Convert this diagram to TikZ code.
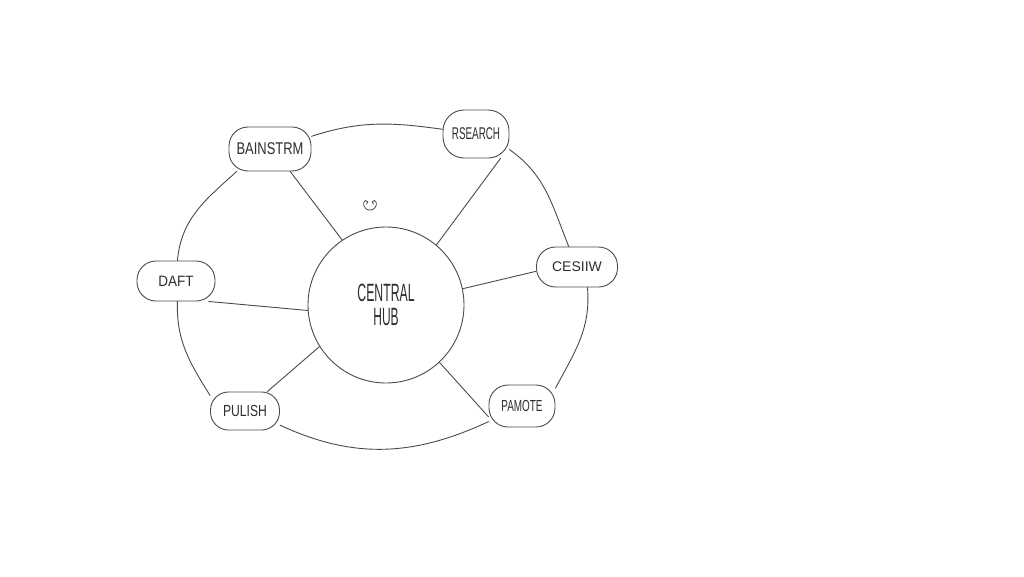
\documentclass[tikz,border=0pt]{standalone}
\usepackage{fontspec}
\setmainfont{Liberation Sans}
\definecolor{inkline}{HTML}{4A4A4A}
\definecolor{inktext}{HTML}{2E2E2E}
\newcommand{\narrowtxt}[2]{\scalebox{#1}[1]{#2}}
\tikzset{
  pen/.style={draw=inkline, line width=0.9pt, line cap=round, line join=round},
  blob/.style={rectangle, rounded corners=19pt, pen, fill=white, inner sep=0pt, text=inktext, font=\fontsize{16}{16}\selectfont},
  hubnode/.style={circle, pen, fill=white, minimum size=156pt, inner sep=0pt, text=inktext, align=center, font=\fontsize{25}{24}\selectfont},
  spoke/.style={pen},
  ring/.style={pen}
}
\begin{document}
\begin{tikzpicture}[x=1pt,y=-1pt]
\useasboundingbox[fill=white] (0,0) rectangle (1024,576);
\node[hubnode] (hub) at (386,305) {\narrowtxt{0.49}{CENTRAL}\\\narrowtxt{0.48}{HUB}};
\node[blob, minimum width=82pt, minimum height=44pt, font=\fontsize{17}{17}\selectfont] (brain) at (270,149) {\narrowtxt{0.76}{BAINSTRM}};
\node[blob, minimum width=66pt, minimum height=48pt, rounded corners=21pt, font=\fontsize{17}{17}\selectfont] (res) at (476,134) {\narrowtxt{0.58}{RSEARCH}};
\node[blob, minimum width=81pt, minimum height=40pt, font=\fontsize{14}{14}\selectfont] (des) at (577,267) {\narrowtxt{1.0}{CESIIW}};
\node[blob, minimum width=78pt, minimum height=40pt, font=\fontsize{15}{15}\selectfont] (draft) at (176,281) {\narrowtxt{0.9}{DAFT}};
\node[blob, minimum width=69pt, minimum height=38pt, rounded corners=18pt] (pub) at (245,411) {\narrowtxt{0.76}{PULISH}};
\node[blob, minimum width=66pt, minimum height=42pt] (prom) at (522,406) {\narrowtxt{0.62}{PAMOTE}};
% spokes
\draw[spoke] (brain.-48) -- (hub.124);
\draw[spoke] (res.-45) -- (hub.50);
\draw[spoke] (des.186) -- (hub.12);
\draw[spoke] (draft.-32) -- (hub.184);
\draw[spoke] (pub.41) -- (hub.212);
\draw[spoke] (prom.198) -- (hub.313);
% outer ring
\draw[ring] (brain.17) to[out=18, in=172] (res.172);
\draw[ring] (res.-25) to[out=-35, in=112] (des.112);
\draw[ring] (des.-63) to[out=-85, in=62] (prom.28);
\draw[ring] (prom.205) to[out=205, in=-25] (pub.-22);
\draw[ring] (pub.156) to[out=122, in=-92] (draft.-86);
\draw[ring] (draft.86) to[out=85, in=222] (brain.214);
% small squiggle above the hub
\draw[pen, line width=0.8pt] (366.5,204) .. controls (369,203) and (368,200.5) .. (365.5,200.5)
  .. controls (362,201.5) and (363,210) .. (370,210)
  .. controls (377,210) and (378,201.5) .. (374.5,200.5)
  .. controls (372,200.5) and (371,203) .. (373.5,204);
\end{tikzpicture}
\end{document}
